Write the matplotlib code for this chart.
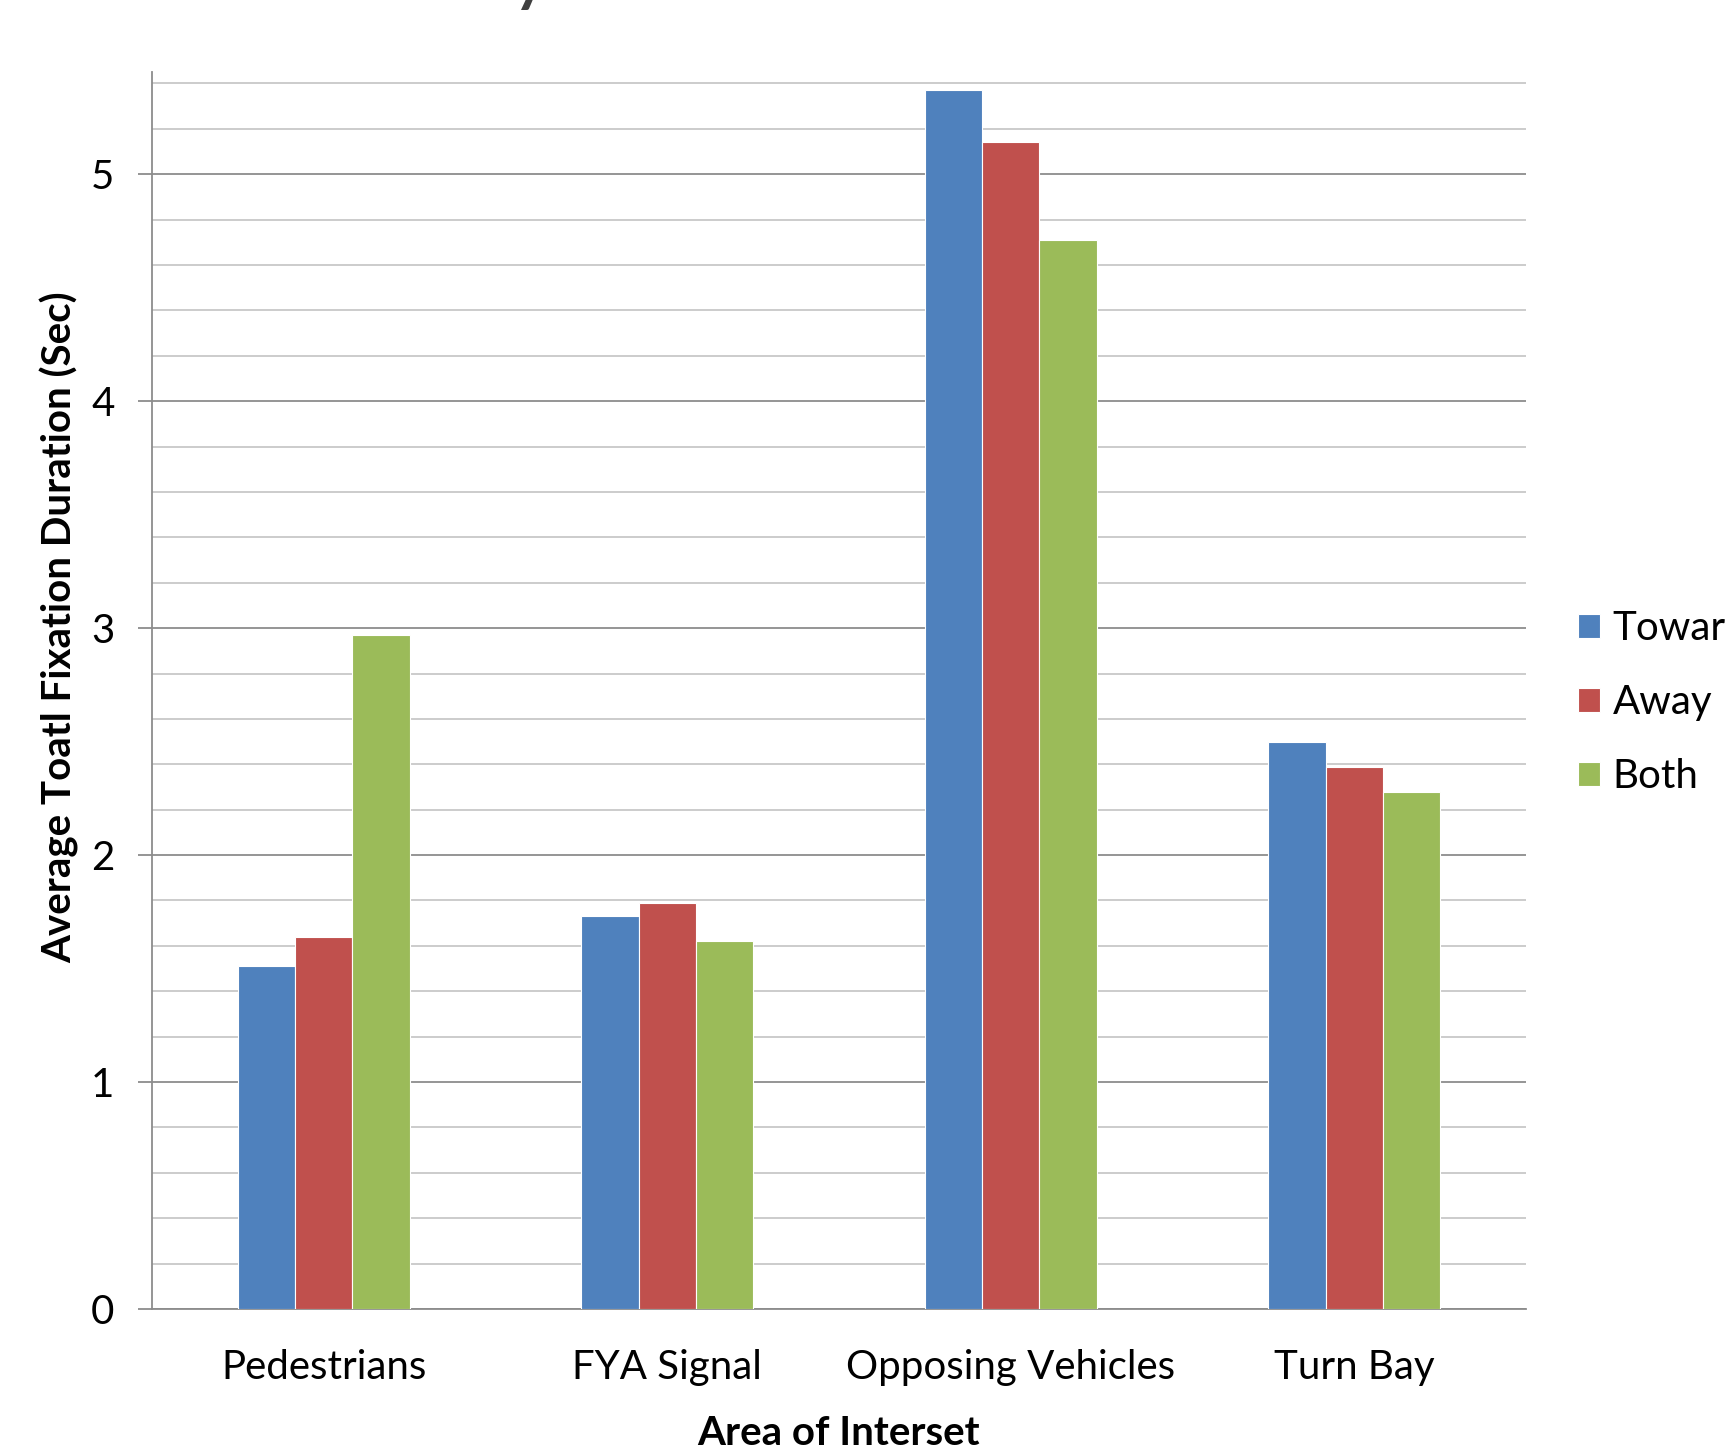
import numpy as np
import matplotlib.pyplot as plt
from matplotlib.ticker import MultipleLocator

plt.rcParams['font.family'] = ['Lato', 'DejaVu Sans']

# Average total fixation duration per area of interest
areas = ['Pedestrians', 'FYA Signal', 'Opposing Vehicles', 'Turn Bay']
series_names = ['Toward', 'Away', 'Both']
toward = [1.51, 1.73, 5.37, 2.50]
away = [1.64, 1.79, 5.14, 2.39]
both = [2.97, 1.62, 4.71, 2.28]
colors = ['#4F81BD', '#C0504D', '#9BBB59']

fig = plt.figure(figsize=(17.25, 14.53), dpi=100)
ax = fig.add_axes([0.0881, 0.0991, 0.7965, 0.8513])

x = np.arange(len(areas))
width = 0.5 / 3
for i, (vals, name, col) in enumerate(zip([toward, away, both], series_names, colors)):
    ax.bar(x + (i - 1) * width, vals, width, color=col, label=name,
           edgecolor='white', linewidth=0.8, zorder=3)

ax.set_xlim(-0.5, 3.5)
ax.set_ylim(0, 5.45)
ax.yaxis.set_major_locator(MultipleLocator(1))
ax.set_yticks(np.arange(0.2, 5.41, 0.2), minor=True)
ax.grid(axis='y', which='major', color='#8c8c8c', linewidth=1.3, zorder=0)
ax.grid(axis='y', which='minor', color='#c8c8c8', linewidth=1.3, zorder=0)
ax.set_axisbelow(True)

for s in ['top', 'right']:
    ax.spines[s].set_visible(False)
for s in ['left', 'bottom']:
    ax.spines[s].set_color('#8c8c8c')
    ax.spines[s].set_linewidth(1.3)

ax.set_xticks(x)
ax.set_xticklabels(areas)
ax.tick_params(axis='x', length=0, pad=29, labelsize=29)
ax.tick_params(axis='y', which='major', length=10, width=1.3, color='#8c8c8c',
               pad=17, labelsize=29)
ax.tick_params(axis='y', which='minor', length=0)

ax.set_xlabel('Area of Interset', fontsize=29, fontweight='bold', labelpad=21)
ax.set_ylabel('Average Toatl Fixation Duration (Sec)', fontsize=29,
              fontweight='bold')
ax.yaxis.set_label_coords(-0.0532, 0.551)

fig.legend(loc='center left', bbox_to_anchor=(0.9056, 0.5165), frameon=False,
           fontsize=29, handlelength=0.55, handleheight=0.55, handletextpad=0.3,
           labelspacing=0.92, borderaxespad=0)

# chart title sits above the visible area; only its descender shows
fig.text(0.298, 1.0, 'y', fontsize=44, fontweight='bold', color='#404040',
         va='baseline', ha='left')

fig.savefig('out.png', dpi=100)
